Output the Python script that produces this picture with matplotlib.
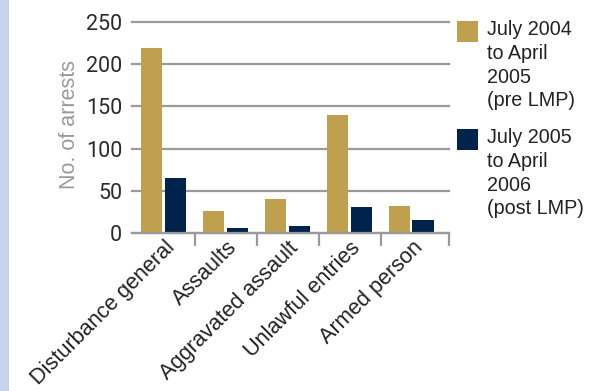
import matplotlib
matplotlib.use("Agg")
import matplotlib.pyplot as plt
from matplotlib.patches import Rectangle
import numpy as np

categories = ["Disturbance general", "Assaults", "Aggravated assault",
              "Unlawful entries", "Armed person"]
pre_lmp = [219, 26, 40, 140, 32]
post_lmp = [65, 6, 8, 31, 15]
series_labels = ["July 2004\nto April\n2005\n(pre LMP)",
                 "July 2005\nto April\n2006\n(post LMP)"]
y_ticks = [0, 50, 100, 150, 200, 250]

GOLD = "#bfa04e"
NAVY = "#00234b"
GRID = "#9a9a9e"

W, H = 589, 391
fig = plt.figure(figsize=(W / 100, H / 100), dpi=100)
fig.patch.set_facecolor("white")

# pale blue strip down the left edge
fig.add_artist(Rectangle((0, 0), 9 / W, 1, transform=fig.transFigure,
                         facecolor="#c6d4eb", edgecolor="none"))

ax = fig.add_axes([132 / W, (H - 233) / H, (449 - 132) / W, (233 - 22) / H])
x = np.arange(len(categories))
bw = 0.34
ax.bar(x - 0.2, pre_lmp, bw, color=GOLD, zorder=3)
ax.bar(x + 0.18, post_lmp, bw, color=NAVY, zorder=3)

ax.set_xlim(-0.52, 4.6)
ax.set_ylim(0, 250)
ax.set_yticks(y_ticks)
ax.set_yticklabels([str(v) for v in y_ticks], family="Roboto", fontsize=15.5,
                   color="#2a2a2a")
ax.tick_params(axis="y", length=0, pad=7)
ax.yaxis.grid(True, color=GRID, lw=1.6, zorder=1)
for ln in ax.get_ygridlines():
    ln.set_clip_on(False)

for s in ["left", "right", "top"]:
    ax.spines[s].set_visible(False)
ax.spines["bottom"].set_color(GRID)
ax.spines["bottom"].set_linewidth(1.6)
ax.spines["bottom"].set_zorder(4)

ax.set_xticks(x)
ax.set_xticklabels(categories, rotation=45, ha="right", va="top",
                   rotation_mode="anchor", family="Liberation Sans",
                   fontsize=15.7, color="#222222")
ax.tick_params(axis="x", which="major", length=0, pad=3)
ax.set_xticks([0.5, 1.5, 2.5, 3.5, 4.6], minor=True)
ax.tick_params(axis="x", which="minor", direction="out", length=9,
               width=1.6, color=GRID)

ax.set_ylabel("No. of arrests", family="Liberation Sans", fontsize=15.5,
              color="#9a9a9a")
ax.yaxis.set_label_coords(-0.164, 0.512)

# legend: square swatch aligned with the first line of each label
for (top, color, label) in [(21, GOLD, series_labels[0]),
                            (129, NAVY, series_labels[1])]:
    fig.add_artist(Rectangle((457 / W, (H - top - 21) / H), 21 / W, 21 / H,
                             transform=fig.transFigure, facecolor=color,
                             edgecolor="none"))
    fig.text(487 / W, (H - top + 1) / H, label, ha="left", va="top",
             family="Liberation Sans", fontsize=14.2, color="#222222",
             linespacing=1.32)

fig.savefig("out.png", dpi=100)
